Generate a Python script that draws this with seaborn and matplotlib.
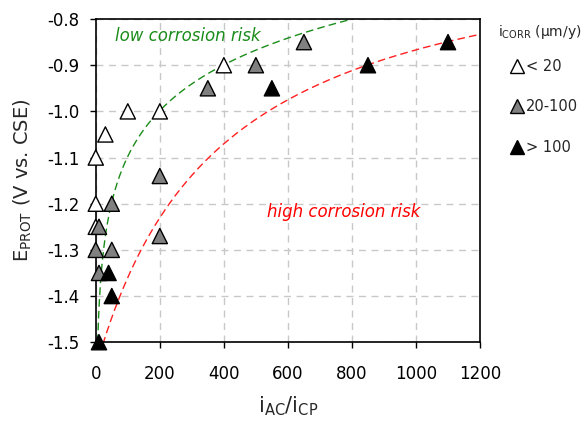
import numpy as np
import pandas as pd
import seaborn as sns
import matplotlib
matplotlib.use("Agg")
import matplotlib.pyplot as plt
from matplotlib.lines import Line2D

# i_AC/i_CP vs E_PROT, grouped by corrosion rate class
low_x = [0, 0, 0, 30, 100, 200, 400]
low_y = [-1.1, -1.2, -1.25, -1.05, -1.0, -1.0, -0.9]
mid_x = [50, 10, 0, 50, 10, 200, 200, 350, 500, 650]
mid_y = [-1.2, -1.25, -1.3, -1.3, -1.35, -1.14, -1.27, -0.95, -0.9, -0.85]
high_x = [40, 50, 10, 550, 850, 1100]
high_y = [-1.35, -1.4, -1.5, -0.95, -0.9, -0.85]
classes = ["< 20", "20-100", "> 100"]
face = {"< 20": "white", "20-100": "#808080", "> 100": "black"}

# boundary curves (fitted coefficients)
green_a, green_b = -1.756, 0.143      # E = a + b*ln(x)
red_a, red_b, red_c = -0.6, 370.0, 387.0  # E = a - b/(x+c)

df = pd.DataFrame({
    "x": low_x + mid_x + high_x,
    "y": low_y + mid_y + high_y,
    "cls": [classes[0]] * len(low_x) + [classes[1]] * len(mid_x) + [classes[2]] * len(high_x),
})

gx = np.linspace(6, 830, 300)
rx = np.linspace(22, 1200, 300)
curves = pd.DataFrame({
    "x": np.concatenate([gx, rx]),
    "y": np.concatenate([green_a + green_b * np.log(gx), red_a - red_b / (rx + red_c)]),
    "curve": ["low"] * len(gx) + ["high"] * len(rx),
})

sns.set_style("ticks")
plt.rcParams["font.family"] = ["DejaVu Sans"]
plt.rcParams["mathtext.fontset"] = "dejavusans"

fig = plt.figure(figsize=(5.84, 4.23), dpi=100)
ax = fig.add_axes([0.164, 0.191, 0.658, 0.764])

sns.lineplot(data=curves, x="x", y="y", hue="curve",
             palette={"low": "#1a8c1a", "high": "#ff2020"},
             dashes=False, linewidth=1.0, legend=False, ax=ax, sort=False,
             estimator=None)
for l in ax.lines:
    l.set_dashes([5.5, 3])

sns.scatterplot(data=df, x="x", y="y", hue="cls", palette=face, marker="^",
                s=120, edgecolor="black", linewidth=1.0, legend=False,
                clip_on=False, zorder=5, ax=ax)

ax.set_xlim(0, 1200)
ax.set_ylim(-1.5, -0.8)
ax.set_xticks(np.arange(0, 1201, 200))
ax.set_yticks(np.arange(-1.5, -0.79, 0.1))
ax.yaxis.set_major_formatter(matplotlib.ticker.FormatStrFormatter("%.1f"))
ax.grid(True, color="#c8c8c8", linestyle=(0, (5, 4)), linewidth=1.0)
for s in ax.spines.values():
    s.set_visible(True)
    s.set_color("black")
    s.set_linewidth(1.2)
ax.tick_params(direction="out", length=4.5, width=1.0, labelsize=12, colors="black")
ax.tick_params(axis="y", pad=7)
ax.tick_params(axis="x", pad=12)
ax.set_xlabel(r"$\mathregular{i_{AC}/i_{CP}}$", fontsize=15, labelpad=8)
ax.set_ylabel(r"$\mathregular{E_{PROT}}$ (V vs. CSE)", fontsize=14, labelpad=10)

ax.text(60, -0.848, "low corrosion risk", color="#1a8c1a", style="italic", fontsize=12)
ax.text(534, -1.228, "high corrosion risk", color="#ff0000", style="italic", fontsize=12)

fig.text(498 / 584, 1 - 32 / 423, r"$\mathregular{i_{CORR}}$ ($\mathregular{\mu}$m/y)",
         fontsize=10, va="center", ha="left")
handles = [Line2D([], [], marker="^", linestyle="none", markersize=9.5,
                  markerfacecolor=face[c], markeredgecolor="black") for c in classes]
fig.legend(handles, classes, loc="upper left", bbox_to_anchor=(507 / 584, 1 - 56 / 423),
           frameon=False, fontsize=10.5, labelspacing=1.75, handletextpad=0.1,
           handlelength=1.0, borderaxespad=0, borderpad=0.2)

fig.savefig("out.png", dpi=100)
plt.close()
